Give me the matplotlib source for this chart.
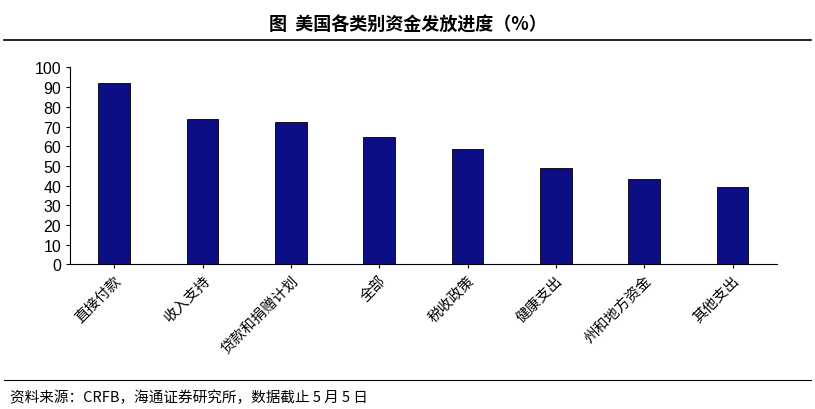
import matplotlib
matplotlib.use("Agg")
import matplotlib.pyplot as plt

plt.rcParams['font.family'] = ['Noto Sans CJK SC', 'DejaVu Sans']

categories = ["直接付款", "收入支持", "贷款和捐赠计划", "全部", "税收政策", "健康支出", "州和地方资金", "其他支出"]
values = [92, 74, 72.5, 64.5, 58.5, 49, 43.5, 39.5]
yticks = list(range(0, 101, 10))

fig = plt.figure(figsize=(8.15, 4.10), dpi=100)
ax = fig.add_axes([0.086, 0.353, 0.867, 0.48])
ax.bar(range(len(categories)), values, width=0.36, color="#0d0d85", edgecolor="black", linewidth=0.6)
ax.set_xlim(-0.5, len(categories) - 0.5)
ax.set_ylim(0, 100)
ax.set_yticks(yticks)
ax.set_yticklabels([str(v) for v in yticks], family=['Liberation Sans', 'DejaVu Sans'], fontsize=11.5)
ax.tick_params(axis='y', length=3)
ax.set_xticks(range(len(categories)))
ax.set_xticklabels(categories, rotation=45, ha='right', rotation_mode='anchor', fontsize=10.5)
ax.tick_params(axis='x', length=3)
for s in ['top', 'right']:
    ax.spines[s].set_visible(False)

fig.text(0.5, 0.94, "图  美国各类别资金发放进度（%）", ha='center', va='center', fontsize=13, fontweight='bold')
fig.add_artist(plt.Line2D([0.005, 0.995], [0.9, 0.9], color='black', lw=1.2, transform=fig.transFigure))
fig.add_artist(plt.Line2D([0.005, 0.995], [0.07, 0.07], color='black', lw=0.8, transform=fig.transFigure))
fig.text(0.012, 0.03, "资料来源：CRFB，海通证券研究所，数据截止 5 月 5 日", ha='left', va='center', fontsize=10.5)

fig.savefig("out.png")
